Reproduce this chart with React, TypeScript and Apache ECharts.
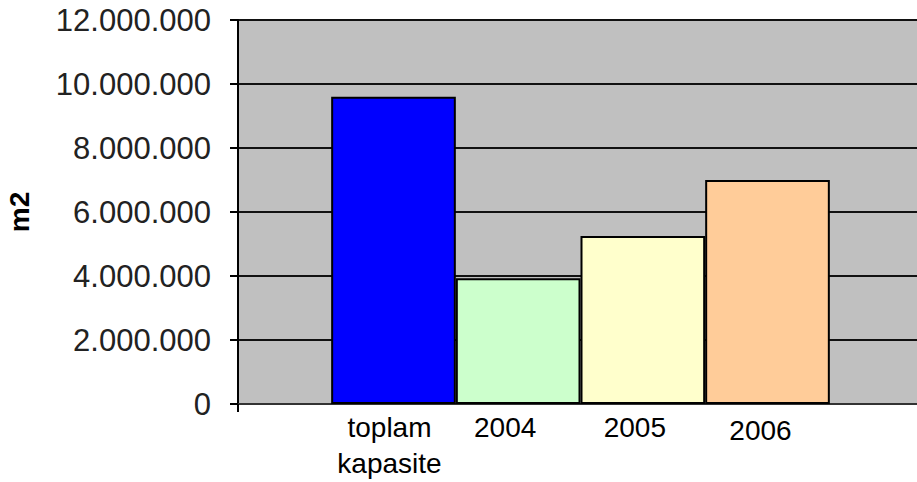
import React, { useEffect, useRef } from "react";
import * as echarts from "echarts";

const categories = ["toplam\nkapasite", "2004", "2005", "2006"];
const values = [9600000, 3930000, 5250000, 7000000];
const yTicks = { min: 0, max: 12000000, interval: 2000000 };
const barColors = ["#0000FF", "#CCFFCC", "#FFFFCC", "#FFCC99"];
const labelOffsets = [[-4, 0], [-13, 0], [-8, 0], [-7, 3]];

const fmt = (v: number) => String(Math.round(v)).replace(/\B(?=(\d{3})+(?!\d))/g, ".");

export default function App() {
  const ref = useRef<HTMLDivElement>(null);
  useEffect(() => {
    if (!ref.current) return;
    const chart = echarts.init(ref.current, undefined, { renderer: "svg" });
    const font = "'Liberation Sans', Arial, sans-serif";
    chart.setOption({
      animation: false,
      backgroundColor: "#FFFFFF",
      grid: {
        left: 238,
        width: 685,
        top: 20,
        bottom: 78,
        outerBoundsMode: "none",
        containLabel: false,
        show: true,
        backgroundColor: "#C0C0C0",
        borderWidth: 0,
      },
      xAxis: {
        type: "category",
        data: [""],
        axisLine: { show: true, lineStyle: { color: "#333", width: 2 } },
        axisTick: { show: true, length: 8, lineStyle: { color: "#000", width: 2 } },
        axisLabel: { show: false },
      },
      yAxis: {
        type: "value",
        min: yTicks.min,
        max: yTicks.max,
        interval: yTicks.interval,
        name: "m2",
        nameLocation: "middle",
        nameGap: 205,
        nameRotate: 90,
        nameTextStyle: { fontFamily: font, fontSize: 28, fontWeight: "bold", color: "#000" },
        axisLine: { show: true, lineStyle: { color: "#000", width: 2 } },
        axisTick: { show: true, length: 8, lineStyle: { color: "#000", width: 2 } },
        axisLabel: { formatter: fmt, fontFamily: font, fontSize: 31, color: "#222", margin: 27 },
        splitLine: { show: true, lineStyle: { color: "#111", width: 2 } },
      },
      series: categories.map((name, i) => ({
        type: "bar",
        name,
        data: [values[i]],
        barGap: "0%",
        barCategoryGap: "27.2%",
        itemStyle: { color: barColors[i], borderColor: "#000", borderWidth: 2 },
        label: {
          show: true,
          position: "bottom",
          distance: 5,
          offset: labelOffsets[i],
          formatter: () => name,
          fontFamily: font,
          fontSize: 28,
          lineHeight: 36,
          color: "#000",
        },
      })),
    });
    return () => chart.dispose();
  }, []);
  return <div ref={ref} style={{ position: "fixed", left: 0, top: 0, width: 917, height: 482 }} />;
}
